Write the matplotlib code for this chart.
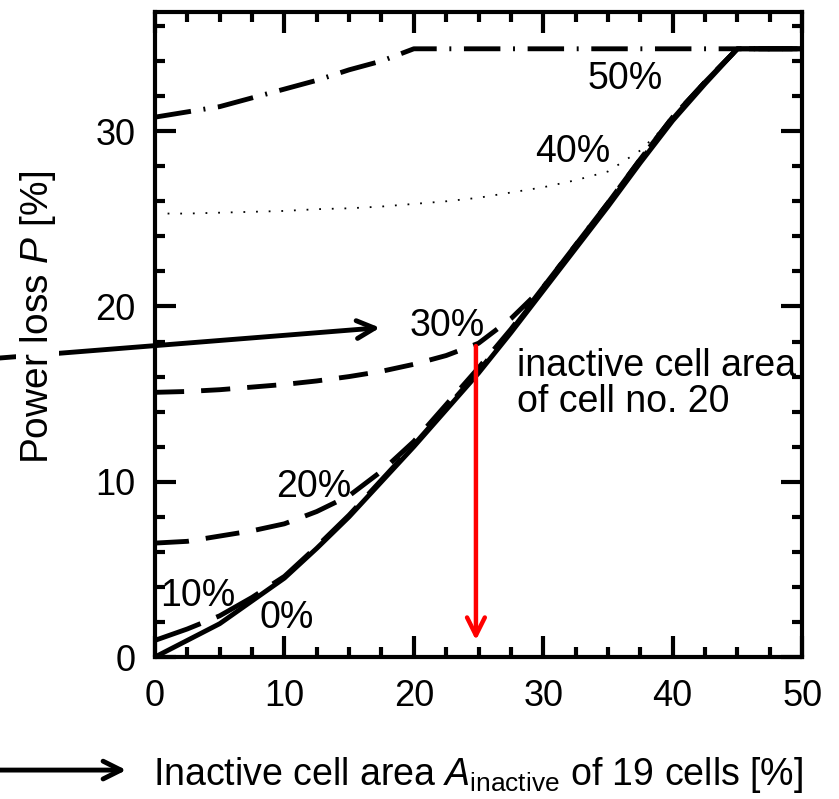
import matplotlib
matplotlib.use("Agg")
import matplotlib.pyplot as plt
from matplotlib.ticker import MultipleLocator

plt.rcParams['font.family'] = ['Liberation Sans', 'DejaVu Sans']
plt.rcParams['mathtext.fontset'] = 'custom'
plt.rcParams['mathtext.rm'] = 'Liberation Sans'
plt.rcParams['mathtext.it'] = 'Liberation Sans:italic'

# inactive cell area of the 19 cells [%]
area = [0, 2.5, 5, 7.5, 10, 12.5, 15, 17.5, 20, 22.5, 25,
        27.5, 30, 32.5, 35, 37.5, 40, 42.5, 45, 47.5, 50]

# power loss [%] for inactive area of cell no. 20
loss_0 = [0, 0.95, 1.9, 3.2, 4.5, 6.2, 8.0, 10.0, 12.0, 14.1, 16.2,
          18.5, 20.9, 23.3, 25.7, 28.2, 30.6, 32.7, 34.7, 34.7, 34.7]
loss_10 = [0.95, 1.6, 2.35, 3.4, 4.6, 6.3, 8.1, 10.1, 12.1, 14.2, 16.3,
           18.6, 21.0, 23.4, 25.8, 28.3, 30.7, 32.8, 34.7, 34.7, 34.7]
loss_20 = [6.5, 6.6, 6.9, 7.2, 7.6, 8.3, 9.2, 10.6, 12.3, 14.4, 16.5,
           18.7, 21.1, 23.5, 25.9, 28.4, 30.8, 32.8, 34.7, 34.7, 34.7]
loss_30 = [15.1, 15.15, 15.25, 15.4, 15.55, 15.75, 16.0, 16.3, 16.7, 17.2, 17.9,
           19.3, 21.1, 23.5, 25.9, 28.4, 30.8, 32.8, 34.7, 34.7, 34.7]
loss_40 = [25.3, 25.3, 25.35, 25.4, 25.45, 25.55, 25.6, 25.7, 25.85, 26.0, 26.2,
           26.5, 26.8, 27.2, 27.7, 28.9, 30.7, 32.8, 34.7, 34.7, 34.7]
loss_50 = [30.8, 31.1, 31.4, 31.9, 32.4, 32.9, 33.5, 34.0, 34.7, 34.7, 34.7,
           34.7, 34.7, 34.7, 34.7, 34.7, 34.7, 34.7, 34.7, 34.7, 34.7]

fig = plt.figure(figsize=(8.39, 7.99), dpi=100)
ax = fig.add_axes([0.1847, 0.1777, 0.7713, 0.8073])

ax.plot(area, loss_50, color='black', lw=3.5, dashes=(7.5, 2.6, 0.4, 2.6))
ax.plot(area, loss_40, color='black', lw=1.3, dashes=(1, 6))
ax.plot(area, loss_30, color='black', lw=3.5, dashes=(6, 3.5))
ax.plot(area, loss_20, color='black', lw=3.5, dashes=(7, 3.5))
ax.plot(area, loss_10, color='black', lw=3.5, dashes=(10, 3.5))
ax.plot(area, loss_0, color='black', lw=3.5)

fs = 27
ax.text(36.3, 33.0, '50%', fontsize=fs, ha='center', va='center')
ax.text(32.3, 28.8, '40%', fontsize=fs, ha='center', va='center')
ax.text(22.6, 18.9, '30%', fontsize=fs, ha='center', va='center')
ax.text(12.3, 9.7, '20%', fontsize=fs, ha='center', va='center')
ax.text(3.3, 3.5, '10%', fontsize=fs, ha='center', va='center')
ax.text(10.2, 2.2, '0%', fontsize=fs, ha='center', va='center')
ax.text(28.0, 15.6, 'inactive cell area\nof cell no. 20', fontsize=fs,
        ha='left', va='center', linespacing=1.0)

# red arrow marking the inactive area of cell no. 20
ax.annotate('', xy=(24.8, 0.8), xytext=(24.8, 17.9),
            arrowprops=dict(arrowstyle='->', color='red', lw=3.2, mutation_scale=32))
# black arrows pointing at the 30% curve and at the x axis label
ax.annotate('', xy=(17.6, 18.8), xytext=(-13, 17.0), zorder=1,
            arrowprops=dict(arrowstyle='->', color='black', lw=3.5, mutation_scale=32),
            annotation_clip=False)
ax.annotate('', xy=(-2.0, -6.45), xytext=(-13, -6.45), zorder=1,
            arrowprops=dict(arrowstyle='->', color='black', lw=3.5, mutation_scale=32),
            annotation_clip=False)

ax.set_xlim(0, 50)
ax.set_ylim(0, 36.8)
ax.xaxis.set_major_locator(MultipleLocator(10))
ax.xaxis.set_minor_locator(MultipleLocator(2.5))
ax.yaxis.set_major_locator(MultipleLocator(10))
ax.yaxis.set_minor_locator(MultipleLocator(2))
ax.tick_params(which='both', direction='in', top=True, right=True, width=3, labelsize=26)
ax.tick_params(which='major', length=15)
ax.tick_params(which='minor', length=7.5)
ax.tick_params(axis='x', pad=16)
ax.tick_params(axis='y', pad=14)
for sp in ax.spines.values():
    sp.set_linewidth(3)

ax.set_ylabel('Power loss $\\mathit{P}$ [%]', fontsize=28,
              bbox=dict(facecolor='white', edgecolor='none', pad=1))
ax.yaxis.set_label_coords(-0.15, 0.526)
ax.set_xlabel('Inactive cell area $\\mathit{A}_{\\mathrm{inactive}}$ of 19 cells [%]', fontsize=27)
ax.xaxis.set_label_coords(0.5, -0.152)

fig.savefig('out.png', dpi=100)
